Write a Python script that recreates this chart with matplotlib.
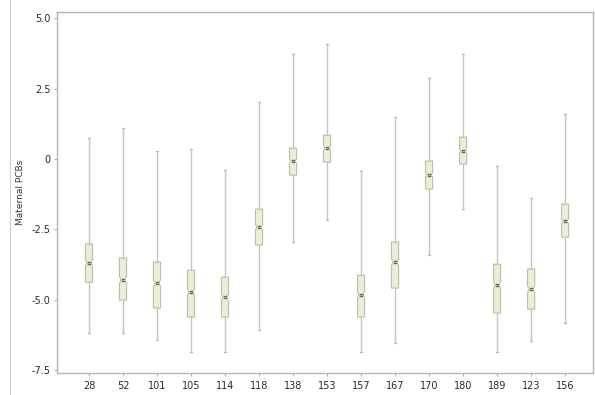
import numpy as np
import matplotlib
matplotlib.use("Agg")
import matplotlib.pyplot as plt
from matplotlib.lines import Line2D

labels = ["28", "52", "101", "105", "114", "118", "138", "153", "157", "167", "170", "180", "189", "123", "156"]
whislo = [-6.19, -6.19, -6.44, -6.87, -6.87, -6.09, -2.95, -2.17, -6.87, -6.55, -3.42, -1.78, -6.87, -6.48, -5.84]
q1 = [-4.38, -5.02, -5.30, -5.62, -5.62, -3.06, -0.57, -0.11, -5.62, -4.59, -1.07, -0.18, -5.48, -5.34, -2.78]
med = [-3.70, -4.30, -4.41, -4.73, -4.91, -2.42, -0.07, 0.39, -4.84, -3.67, -0.57, 0.28, -4.48, -4.63, -2.21]
q3 = [-3.02, -3.52, -3.66, -3.95, -4.20, -1.78, 0.39, 0.85, -4.13, -2.95, -0.07, 0.78, -3.74, -3.91, -1.60]
whishi = [0.75, 1.10, 0.28, 0.36, -0.39, 2.03, 3.73, 4.09, -0.43, 1.49, 2.88, 3.73, -0.25, -1.39, 1.60]
notch = [0.12, 0.12, 0.12, 0.12, 0.12, 0.10, 0.08, 0.08, 0.12, 0.12, 0.08, 0.08, 0.12, 0.12, 0.10]

stats = []
for i in range(len(labels)):
    stats.append({"label": labels[i], "whislo": whislo[i], "q1": q1[i], "med": med[i],
                  "q3": q3[i], "whishi": whishi[i], "fliers": [],
                  "cilo": med[i] - notch[i], "cihi": med[i] + notch[i]})

fig = plt.figure(figsize=(5.95, 3.95), dpi=100)
ax = fig.add_axes([57 / 595, 22 / 395, 536 / 595, 361 / 395])

pos = np.arange(1, len(labels) + 1)
ax.bxp(stats, positions=pos, widths=0.21, shownotches=True, patch_artist=True,
       boxprops=dict(facecolor="#ededd6", edgecolor="#bdbda6", linewidth=0.8),
       whiskerprops=dict(color="#c4c4c4", linewidth=1.0),
       capprops=dict(color="#b8b8b8", linewidth=0.8),
       medianprops=dict(color="#c8c8b8", linewidth=0.6),
       capwidths=0.06)
ax.plot(pos, med, linestyle="none", marker="s", markersize=1.8, color="#5f5f52")

ax.set_xlim(0.06, 15.82)
ax.set_ylim(-7.61, 5.23)
ax.set_yticks([5.0, 2.5, 0, -2.5, -5.0, -7.5])
ax.set_yticklabels(["5.0", "2.5", "0", "-2.5", "-5.0", "-7.5"])
ax.set_xticks(pos)
ax.set_xticklabels(labels)
ax.tick_params(axis="both", labelsize=7, colors="#b0b0b0", labelcolor="#2a2a2a", length=2.5, width=0.8)
ax.tick_params(axis="x", pad=3)
ax.tick_params(axis="y", pad=2)
for s in ax.spines.values():
    s.set_color("#b4b4b4")
    s.set_linewidth(1.0)
ax.set_ylabel("Maternal PCBs", fontsize=6.5, color="#333333", labelpad=5)

# thin frame line at the left edge of the image
fig.add_artist(Line2D([10 / 595, 10 / 595], [0, 1], transform=fig.transFigure, color="#d0d0d0", linewidth=0.8))

fig.savefig("out.png", dpi=100)
